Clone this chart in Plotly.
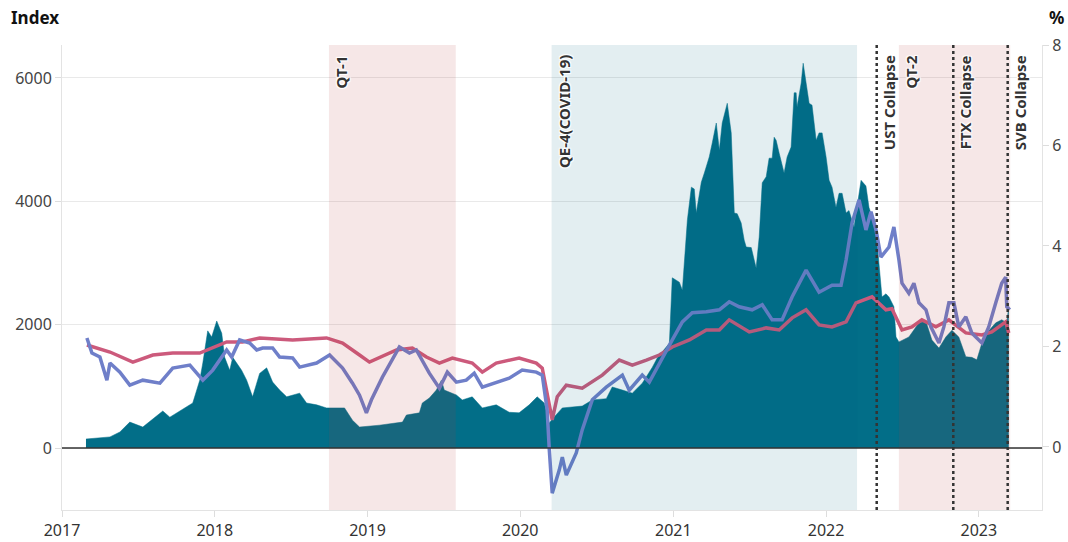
import pandas as pd
import plotly.graph_objects as go

# ---------------- data (decimal-year time stamps) ----------------
index_t = [2017.157, 2017.314, 2017.379, 2017.444, 2017.529, 2017.660, 2017.706, 2017.817, 2017.856,
           2017.902, 2017.922, 2017.954, 2017.980, 2018.013, 2018.046, 2018.065, 2018.098, 2018.118,
           2018.176, 2018.209, 2018.248, 2018.294, 2018.340, 2018.379, 2018.425, 2018.471, 2018.556,
           2018.601, 2018.667, 2018.732, 2018.850, 2018.902, 2018.948, 2019.078, 2019.229, 2019.255,
           2019.340, 2019.359, 2019.405, 2019.451, 2019.484, 2019.503, 2019.582, 2019.621, 2019.686,
           2019.752, 2019.843, 2019.928, 2019.993, 2020.059, 2020.111, 2020.157, 2020.190, 2020.203,
           2020.275, 2020.405, 2020.471, 2020.562, 2020.601, 2020.667, 2020.732, 2020.797, 2020.863,
           2020.895, 2020.941, 2020.974, 2020.993, 2021.039, 2021.059, 2021.092, 2021.118, 2021.137,
           2021.150, 2021.183, 2021.203, 2021.235, 2021.255, 2021.281, 2021.301, 2021.320, 2021.353,
           2021.379, 2021.399, 2021.418, 2021.444, 2021.464, 2021.477, 2021.510, 2021.542, 2021.562,
           2021.582, 2021.608, 2021.627, 2021.647, 2021.660, 2021.673, 2021.693, 2021.725, 2021.745,
           2021.771, 2021.791, 2021.804, 2021.810, 2021.837, 2021.850, 2021.869, 2021.889, 2021.908,
           2021.935, 2021.954, 2021.974, 2022.000, 2022.020, 2022.039, 2022.065, 2022.085, 2022.105,
           2022.131, 2022.150, 2022.183, 2022.229, 2022.261, 2022.281, 2022.301, 2022.327, 2022.346,
           2022.366, 2022.392, 2022.412, 2022.444, 2022.458, 2022.477, 2022.542, 2022.608, 2022.654,
           2022.693, 2022.739, 2022.784, 2022.824, 2022.869, 2022.915, 2022.954, 2022.987, 2023.020,
           2023.065, 2023.111, 2023.150, 2023.183, 2023.196]
index_v = [146, 180, 260, 420, 340, 600, 500, 660, 730,
           1100, 1380, 1900, 1800, 2060, 1860, 1470, 1260, 1470,
           1260, 1100, 830, 1210, 1300, 1070, 940, 830, 890,
           730, 700, 650, 650, 450, 340, 370, 420, 535,
           570, 730, 810, 940, 1100, 940, 860, 780, 830,
           650, 700, 580, 570, 700, 830, 730, 400, 450,
           650, 680, 780, 800, 990, 940, 890, 1050, 1310,
           1460, 1600, 1700, 2760, 2690, 2560, 3700, 4230, 4200,
           3810, 4310, 4460, 4720, 4950, 5270, 4830, 5270, 5590,
           5110, 3810, 3800, 3650, 3370, 3260, 3250, 2920, 3420,
           4300, 4400, 4700, 4700, 5040, 4990, 4780, 4460, 4720,
           4880, 5760, 5760, 5530, 5920, 6240, 5920, 5590, 5560,
           4990, 5110, 5110, 4720, 4340, 4230, 3900, 4130, 4130,
           3810, 3850, 3580, 4340, 4250, 3900, 3750, 3580, 3000,
           2450, 2500, 2450, 2290, 1800, 1720, 1800, 2030, 2050,
           1750, 1620, 1800, 1910, 1800, 1480, 1470, 1430, 1700,
           1900, 2030, 2080, 2030, 2300]

red_t = [2017.163, 2017.314, 2017.464, 2017.595, 2017.725, 2017.902, 2018.078, 2018.183, 2018.294,
         2018.510, 2018.732, 2018.837, 2018.948, 2019.013, 2019.190, 2019.294, 2019.386, 2019.471,
         2019.556, 2019.686, 2019.752, 2019.843, 2019.993, 2020.105, 2020.144, 2020.176, 2020.209,
         2020.242, 2020.301, 2020.405, 2020.536, 2020.647, 2020.732, 2020.824, 2020.908, 2020.993,
         2021.105, 2021.216, 2021.301, 2021.366, 2021.497, 2021.608, 2021.693, 2021.778, 2021.869,
         2021.954, 2022.039, 2022.131, 2022.196, 2022.301, 2022.392, 2022.431, 2022.497, 2022.562,
         2022.627, 2022.719, 2022.804, 2022.915, 2023.020, 2023.085, 2023.176, 2023.196]
red_v = [2.03, 1.89, 1.69, 1.83, 1.87, 1.87, 2.09, 2.09, 2.17,
         2.13, 2.17, 2.07, 1.83, 1.69, 1.93, 1.97, 1.79, 1.67,
         1.77, 1.67, 1.49, 1.67, 1.77, 1.67, 1.57, 1.07, 0.54,
         1.00, 1.23, 1.17, 1.43, 1.73, 1.63, 1.73, 1.83, 1.99,
         2.13, 2.33, 2.33, 2.53, 2.29, 2.37, 2.33, 2.57, 2.73,
         2.43, 2.39, 2.49, 2.87, 2.99, 2.73, 2.75, 2.33, 2.39,
         2.53, 2.39, 2.53, 2.27, 2.23, 2.29, 2.49, 2.27]

blue_t = [2017.163, 2017.196, 2017.248, 2017.294, 2017.314, 2017.379, 2017.444, 2017.529, 2017.641,
          2017.725, 2017.837, 2017.922, 2017.987, 2018.078, 2018.111, 2018.163, 2018.229, 2018.275,
          2018.314, 2018.379, 2018.425, 2018.510, 2018.556, 2018.667, 2018.752, 2018.837, 2018.902,
          2018.948, 2018.993, 2019.026, 2019.098, 2019.209, 2019.275, 2019.320, 2019.405, 2019.471,
          2019.523, 2019.582, 2019.647, 2019.699, 2019.752, 2019.843, 2019.928, 2020.013, 2020.105,
          2020.144, 2020.176, 2020.190, 2020.209, 2020.255, 2020.275, 2020.301, 2020.366, 2020.405,
          2020.471, 2020.562, 2020.627, 2020.667, 2020.712, 2020.797, 2020.843, 2020.908, 2020.993,
          2021.059, 2021.124, 2021.216, 2021.301, 2021.366, 2021.431, 2021.516, 2021.582, 2021.647,
          2021.712, 2021.778, 2021.869, 2021.954, 2022.039, 2022.098, 2022.131, 2022.170, 2022.216,
          2022.261, 2022.294, 2022.327, 2022.359, 2022.412, 2022.444, 2022.477, 2022.497, 2022.542,
          2022.575, 2022.608, 2022.654, 2022.686, 2022.739, 2022.771, 2022.804, 2022.837, 2022.869,
          2022.915, 2022.954, 2023.020, 2023.065, 2023.111, 2023.150, 2023.176, 2023.183, 2023.203]
blue_v = [2.17, 1.87, 1.79, 1.33, 1.67, 1.49, 1.23, 1.33, 1.27,
          1.57, 1.63, 1.33, 1.53, 1.93, 1.79, 2.13, 2.07, 1.93,
          1.97, 1.97, 1.79, 1.77, 1.59, 1.67, 1.83, 1.57, 1.27,
          1.03, 0.68, 0.94, 1.39, 1.99, 1.87, 1.93, 1.47, 1.17,
          1.49, 1.29, 1.33, 1.47, 1.19, 1.29, 1.37, 1.53, 1.49,
          1.43, 0.74, -0.06, -0.92, -0.46, -0.20, -0.56, -0.12, 0.34,
          0.94, 1.19, 1.33, 1.43, 1.13, 1.43, 1.29, 1.67, 2.13,
          2.49, 2.67, 2.69, 2.73, 2.89, 2.79, 2.73, 2.83, 2.53,
          2.53, 2.99, 3.52, 3.08, 3.22, 3.22, 3.72, 4.46, 4.92,
          4.32, 4.68, 4.32, 3.78, 3.98, 4.38, 3.72, 3.26, 3.06,
          3.26, 2.87, 2.73, 2.39, 2.07, 2.39, 2.87, 2.87, 2.39,
          2.59, 2.27, 2.07, 2.39, 2.87, 3.26, 3.38, 2.79, 2.73]

period_names = ["QT-1", "QE-4(COVID-19)", "QT-2"]
period_start = ["2018-10-01", "2020-03-16", "2022-06-24"]
period_end = ["2019-07-31", "2022-03-16", "2023-03-17"]
period_kind = ["qt", "qe", "qt"]

event_names = ["UST Collapse", "FTX Collapse", "SVB Collapse"]
event_dates = ["2022-05-02", "2022-11-01", "2023-03-11"]

x_range = ["2017-01-01", "2023-06-01"]
x_ticks = ["2017-01-01", "2018-01-01", "2019-01-01", "2020-01-01",
           "2021-01-01", "2022-01-01", "2023-01-01"]
x_ticktext = ["2017", "2018", "2019", "2020", "2021", "2022", "2023"]
left_ticks = [0, 2000, 4000, 6000]
right_ticks = [0, 2, 4, 6, 8]


def to_date(t):
    y = int(t)
    start = pd.Timestamp(year=y, month=1, day=1)
    days = (pd.Timestamp(year=y + 1, month=1, day=1) - start).days
    return start + pd.Timedelta(days=(t - y) * days)


FONT = "Noto Sans"
TEAL = "#026e88"
RED = "#cc5a7c"
BLUE = "#6f7fc9"
LBL = dict(family=FONT, size=15, color="#333333", shadow="auto")
TICKF = dict(family=FONT, size=16, color="#444444")

fig = go.Figure()
fig.add_trace(go.Scatter(x=[to_date(t) for t in index_t], y=index_v, mode="lines",
                         line=dict(color=TEAL, width=0.5), fill="tozeroy", fillcolor=TEAL,
                         name="Index", yaxis="y"))
fig.add_trace(go.Scatter(x=[to_date(t) for t in red_t], y=red_v, mode="lines",
                         line=dict(color=RED, width=3.5), name="red", yaxis="y2"))
fig.add_trace(go.Scatter(x=[to_date(t) for t in blue_t], y=blue_v, mode="lines",
                         line=dict(color=BLUE, width=3.5), name="blue", yaxis="y2"))

shapes = []
annotations = []
for nm, s, e, k in zip(period_names, period_start, period_end, period_kind):
    col = "rgba(180,60,60,0.12)" if k == "qt" else "rgba(0,100,130,0.11)"
    shapes.append(dict(type="rect", xref="x", yref="paper", x0=s, x1=e, y0=0, y1=1,
                       fillcolor=col, line=dict(width=0), layer="above"))
    annotations.append(dict(text="<b>%s</b>" % nm, xref="x", yref="paper", x=s, y=1,
                            xanchor="left", yanchor="top", xshift=0, yshift=-8, textangle=-90,
                            showarrow=False, font=LBL))
shapes.append(dict(type="line", xref="paper", yref="y", x0=0, x1=1, y0=0, y1=0,
                   line=dict(color="#333333", width=1.3), layer="above"))
for nm, d in zip(event_names, event_dates):
    shapes.append(dict(type="line", xref="x", yref="paper", x0=d, x1=d, y0=0, y1=1,
                       line=dict(color="#333333", width=2.5, dash="dot"), layer="above"))
    annotations.append(dict(text="<b>%s</b>" % nm, xref="x", yref="paper", x=d, y=1,
                            xanchor="left", yanchor="top", xshift=0, yshift=-8, textangle=-90,
                            showarrow=False, font=LBL))

annotations.append(dict(text="<b>Index</b>", xref="paper", yref="paper", x=0, y=1,
                        xanchor="left", yanchor="middle", xshift=-53, yshift=28, showarrow=False,
                        font=dict(family=FONT, size=17, color="#111111")))
annotations.append(dict(text="<b>%</b>", xref="paper", yref="paper", x=1, y=1,
                        xanchor="left", yanchor="middle", xshift=5, yshift=28, showarrow=False,
                        font=dict(family=FONT, size=17, color="#111111")))

axis_common = dict(showline=True, linecolor="#e3e3e3", zeroline=False, automargin=False,
                   ticks="outside", ticklen=6, tickcolor="#dddddd")

fig.update_layout(
    width=1068, height=542,
    margin=dict(l=62, r=26, t=45, b=32, autoexpand=False),
    paper_bgcolor="white", plot_bgcolor="white",
    showlegend=False,
    font=dict(family=FONT, size=15, color="#444444"),
    shapes=shapes, annotations=annotations,
    xaxis=dict(type="date", range=x_range, tickvals=x_ticks, ticktext=x_ticktext,
               showgrid=False, tickfont=dict(family=FONT, size=16, color="#333333"),
               **axis_common),
    yaxis=dict(range=[-1005, 6535], tickvals=left_ticks, showgrid=True, gridcolor="#e9e9e9",
               tickfont=TICKF, **axis_common),
    yaxis2=dict(range=[-1.254, 8], tickvals=right_ticks, overlaying="y", side="right",
                showgrid=False, tickfont=TICKF, **axis_common),
)

fig.write_html("out.html", config={"displayModeBar": False},
               post_script="document.body.style.margin='0px';")
